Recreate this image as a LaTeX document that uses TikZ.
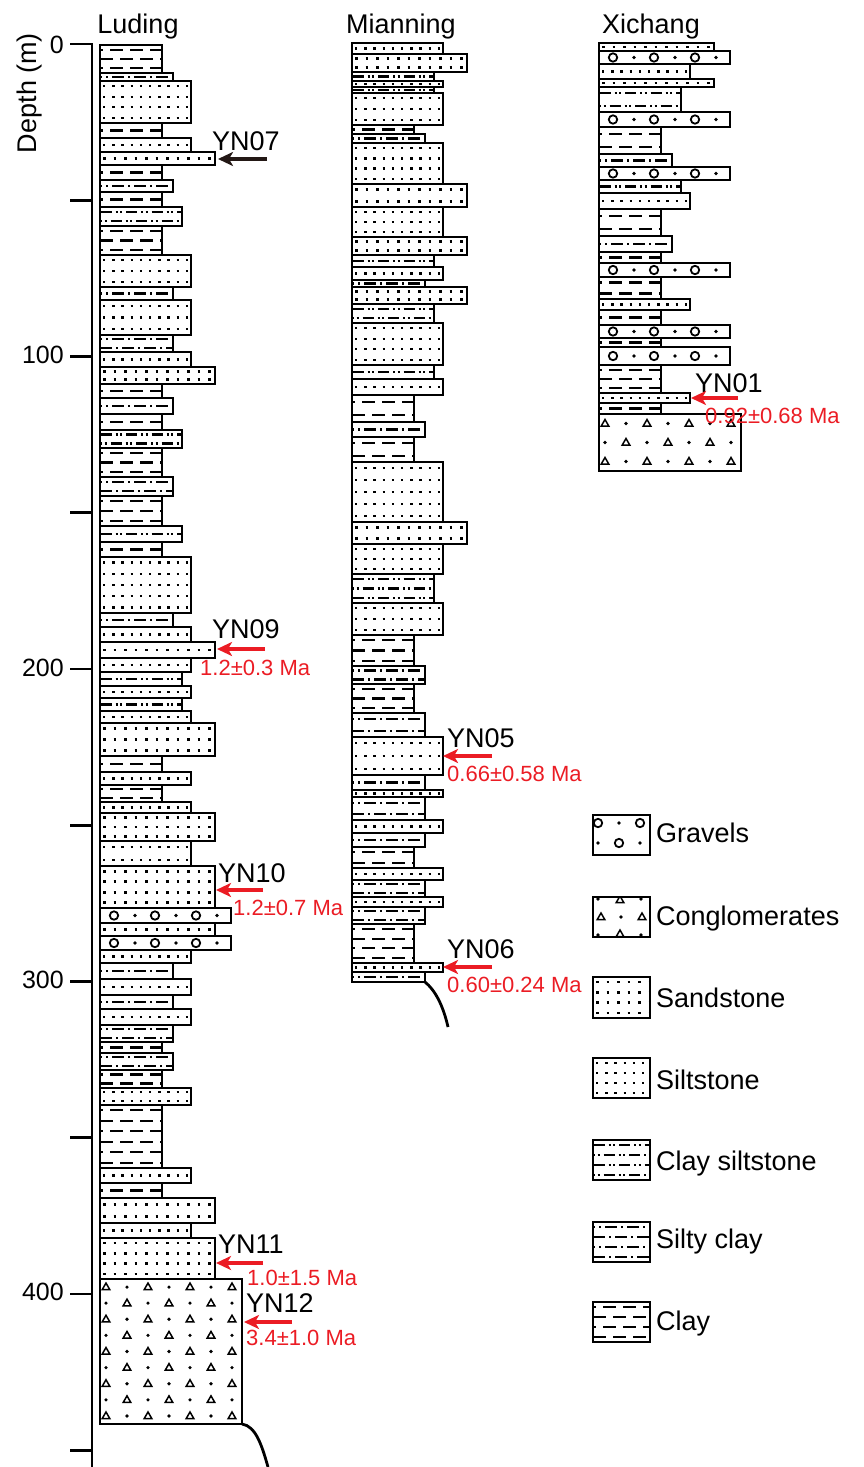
\documentclass[tikz,border=0pt]{standalone}
\usepackage{fontspec}
\setmainfont{Liberation Sans}
\usetikzlibrary{arrows.meta}
\definecolor{agered}{RGB}{235,28,36}
\definecolor{darkarr}{RGB}{35,24,21}

% widths per lithology
\def\wcl{62}\def\wsc{73}\def\wcs{82}\def\wsi{91}\def\wsa{115}\def\wgr{131}\def\wcg{142}
% row spacing per lithology
\def\rscl{11}\def\rssc{11}\def\rscs{11}\def\rssi{11}\def\rssa{11}\def\rsgr{20}\def\rscg{17}

\tikzset{
  box/.style={line width=2.8pt},
  pl/.style={line width=2.1pt},
  hd/.style={font=\fontsize{27}{30}\selectfont, inner sep=0pt, anchor=base},
  yn/.style={font=\fontsize{27}{30}\selectfont, inner sep=0pt, anchor=base west},
  age/.style={font=\fontsize{22}{25}\selectfont, text=agered, inner sep=0pt, anchor=base west},
  tick/.style={font=\fontsize{25}{28}\selectfont, inner sep=0pt, anchor=east},
  leg/.style={font=\fontsize{27}{30}\selectfont, inner sep=0pt, anchor=base west},
  redarr/.style={agered, line width=3.6pt, -{Stealth[length=15pt,width=14pt,inset=4pt]}},
  blkarr/.style={darkarr, line width=3.6pt, -{Stealth[length=15pt,width=14pt,inset=4pt]}},
  gcirc/.style={line width=1.8pt},
  gtri/.style={line width=1.5pt, line join=miter},
}

\newcommand\patcl[3]{\draw[pl,dash pattern=on 13pt off 7pt,dash phase=\ph pt] (#1,#2)--++(#3,0);}
\newcommand\patsc[3]{\draw[pl,dash pattern=on 12pt off 4pt on 2pt off 4pt,dash phase=\ph pt] (#1,#2)--++(#3,0);}
\newcommand\patcs[3]{\draw[pl,dash pattern=on 2pt off 2.5pt on 2pt off 4pt on 11pt off 4pt,dash phase=\ph pt] (#1,#2)--++(#3,0);}
\newcommand\patsi[3]{\draw[line width=2.3pt,dash pattern=on 2.3pt off 6.9pt] (#1+3,#2)--++(#3,0);}
\newcommand\patsa[3]{\draw[line width=2.7pt,dash pattern=on 2.7pt off 7.8pt] (#1+3,#2)--++(#3,0);}
\newcommand\gravel[2]{\draw[gcirc] (#1,#2) circle (4.2pt);}
\newcommand\gdot[2]{\fill (#1,#2) circle (1.8pt);}
\newcommand\ctri[2]{\draw[gtri] (#1,#2-4)--++(3.8,6.6)--++(-7.6,0)--cycle;}
\newcommand\patgr[3]{\pgfmathsetmacro\sh{(1-\odd)*20}%
  \foreach \k in {0,...,3}{\gravel{#1+14+41*\k+\sh}{#2}\gdot{#1+35+41*\k+\sh}{#2}}}
\newcommand\patcg[3]{\foreach \k in {0,...,6}{\pgfmathtruncatemacro\tri{mod(\k+\odd,2)}%
  \ifnum\tri=1 \ctri{#1+6+21*\k}{#2}\else\gdot{#1+6+21*\k}{#2}\fi}}

\newcommand\lyrw[5]{%
  \pgfmathsetmacro\lh{#3-#2}%
  \pgfmathtruncatemacro\nr{max(1,round(\lh/\csname rs#5\endcsname))}%
  \begin{scope}
    \clip (#1,#2) rectangle (#1+#4,#3);
    \foreach \i in {1,...,\nr}{%
      \pgfmathsetmacro\ry{#2+(\i-0.5)*\lh/\nr}%
      \pgfmathtruncatemacro\odd{mod(\i,2)}%
      \pgfmathsetmacro\ph{\odd*10}%
      \csname pat#5\endcsname{#1}{\ry}{#4}%
    }%
  \end{scope}
  \draw[box] (#1,#2) rectangle (#1+#4,#3);
}
\newcommand\lyr[4]{\lyrw{#1}{#2}{#3}{\csname w#4\endcsname}{#4}}

\begin{document}
\begin{tikzpicture}[x=1pt,y=-1pt]
\useasboundingbox (0,0) rectangle (864,1467);

% ---------- depth axis ----------
\draw[box] (70,44) -- (92,44) -- (92,1467);
\foreach \d in {50,100,...,450} \draw[box] (70,{44+3.125*\d}) -- (92,{44+3.125*\d});
\node[tick] (t0) at (64,45) {0};
\node[tick] (t100) at (64,355) {100};
\node[tick] (t200) at (64,668) {200};
\node[tick] (t300) at (64,980) {300};
\node[tick] (t400) at (64,1292) {400};
\node[font=\fontsize{27}{30}\selectfont, inner sep=0pt, rotate=90] (depth) at (30,93) {Depth (m)};

% ---------- headers ----------
\node[hd] (hLuding) at (138,33) {Luding};
\node[hd] (hMianning) at (401,33) {Mianning};
\node[hd] (hXichang) at (651,33) {Xichang};

% ---------- Luding ----------
\lyr{100}{45}{73}{cl}
\lyr{100}{73}{81}{sc}
\lyr{100}{81}{123}{si}
\lyr{100}{123}{138}{cl}
\lyr{100}{138}{152}{si}
\lyr{100}{152}{165}{sa}
\lyr{100}{165}{180}{cl}
\lyr{100}{180}{192}{sc}
\lyr{100}{192}{207}{cl}
\lyr{100}{207}{226}{cs}
\lyr{100}{226}{255}{cl}
\lyr{100}{255}{287}{si}
\lyr{100}{287}{300}{sc}
\lyr{100}{300}{335}{si}
\lyr{100}{335}{352}{sc}
\lyr{100}{352}{367}{si}
\lyr{100}{367}{384}{sa}
\lyr{100}{384}{398}{cl}
\lyr{100}{398}{414}{sc}
\lyr{100}{414}{430}{cl}
\lyr{100}{430}{448}{cs}
\lyr{100}{448}{477}{cl}
\lyr{100}{477}{496}{sc}
\lyr{100}{496}{526}{cl}
\lyr{100}{526}{542}{cs}
\lyr{100}{542}{557}{cl}
\lyr{100}{557}{613}{si}
\lyr{100}{613}{627}{sc}
\lyr{100}{627}{642}{si}
\lyr{100}{642}{658}{sa}
\lyr{100}{658}{672}{si}
\lyr{100}{672}{686}{cs}
\lyr{100}{686}{698}{si}
\lyr{100}{698}{711}{cs}
\lyr{100}{711}{723}{si}
\lyr{100}{723}{756}{sa}
\lyr{100}{756}{772}{cl}
\lyr{100}{772}{785}{si}
\lyr{100}{785}{802}{cl}
\lyr{100}{802}{813}{si}
\lyr{100}{813}{841}{sa}
\lyr{100}{841}{866}{si}
\lyr{100}{866}{908}{sa}
\lyr{100}{908}{923}{gr}
\lyr{100}{923}{936}{sa}
\lyr{100}{936}{950}{gr}
\lyr{100}{950}{963}{si}
\lyr{100}{963}{979}{sc}
\lyr{100}{979}{995}{si}
\lyr{100}{995}{1009}{sc}
\lyr{100}{1009}{1025}{si}
\lyr{100}{1025}{1042}{sc}
\lyr{100}{1042}{1053}{cl}
\lyr{100}{1053}{1070}{sc}
\lyr{100}{1070}{1088}{cl}
\lyr{100}{1088}{1105}{si}
\lyr{100}{1105}{1168}{cl}
\lyr{100}{1168}{1183}{si}
\lyr{100}{1183}{1198}{cl}
\lyr{100}{1198}{1223}{sa}
\lyr{100}{1223}{1238}{si}
\lyr{100}{1238}{1279}{sa}
\lyr{100}{1279}{1424}{cg}
\coordinate (lbot) at (242,1424);
\coordinate (lend) at (268,1467);
\draw[box] (lbot) .. controls (256,1426) and (262,1446) .. (lend);

% ---------- Mianning ----------
\lyr{352}{43}{54}{si}
\lyr{352}{54}{72}{sa}
\lyr{352}{72}{81}{cs}
\lyr{352}{81}{87}{si}
\lyr{352}{87}{93}{cs}
\lyr{352}{93}{125}{si}
\lyr{352}{125}{134}{cl}
\lyr{352}{134}{143}{sc}
\lyr{352}{143}{184}{si}
\lyr{352}{184}{207}{sa}
\lyr{352}{207}{237}{si}
\lyr{352}{237}{255}{sa}
\lyr{352}{255}{267}{cs}
\lyr{352}{267}{280}{si}
\lyr{352}{280}{287}{sc}
\lyr{352}{287}{304}{sa}
\lyr{352}{304}{323}{cs}
\lyr{352}{323}{365}{si}
\lyr{352}{365}{379}{cs}
\lyr{352}{379}{395}{si}
\lyr{352}{395}{422}{cl}
\lyr{352}{422}{437}{sc}
\lyr{352}{437}{462}{cl}
\lyr{352}{462}{522}{si}
\lyr{352}{522}{544}{sa}
\lyr{352}{544}{574}{si}
\lyr{352}{574}{603}{cs}
\lyr{352}{603}{635}{si}
\lyr{352}{635}{666}{cl}
\lyr{352}{666}{684}{sc}
\lyr{352}{684}{713}{cl}
\lyr{352}{713}{737}{sc}
\lyr{352}{737}{775}{si}
\lyr{352}{775}{790}{sc}
\lyr{352}{790}{797}{si}
\lyr{352}{797}{820}{sc}
\lyr{352}{820}{833}{si}
\lyr{352}{833}{847}{sc}
\lyr{352}{847}{868}{cl}
\lyr{352}{868}{880}{si}
\lyr{352}{880}{897}{sc}
\lyr{352}{897}{907}{si}
\lyr{352}{907}{924}{sc}
\lyr{352}{924}{963}{cl}
\lyr{352}{963}{972}{si}
\lyr{352}{972}{982}{sc}
\coordinate (mbot) at (425,982);
\coordinate (mend) at (448,1027);
\draw[box] (mbot) .. controls (435,990) and (443,1005) .. (mend);

% ---------- Xichang ----------
\lyr{599}{43}{51}{sa}
\lyr{599}{51}{64}{gr}
\lyr{599}{64}{79}{si}
\lyr{599}{79}{87}{sa}
\lyr{599}{87}{112}{cs}
\lyr{599}{112}{127}{gr}
\lyr{599}{127}{154}{cl}
\lyr{599}{154}{167}{sc}
\lyr{599}{167}{180}{gr}
\lyr{599}{180}{193}{cs}
\lyr{599}{193}{209}{si}
\lyr{599}{209}{236}{cl}
\lyr{599}{236}{252}{sc}
\lyr{599}{252}{263}{cl}
\lyr{599}{263}{277}{gr}
\lyr{599}{277}{299}{cl}
\lyr{599}{299}{310}{si}
\lyr{599}{310}{325}{cl}
\lyr{599}{325}{338}{gr}
\lyr{599}{338}{347}{cl}
\lyr{599}{347}{365}{gr}
\lyr{599}{365}{393}{cl}
\lyr{599}{393}{403}{si}
\lyr{599}{403}{414}{cl}
\lyr{599}{414}{471}{cg}

% ---------- samples ----------
\node[yn] (yn07) at (212,150) {YN07};
\coordinate (a07s) at (267,159); \coordinate (a07e) at (218,159);
\draw[blkarr] (a07s) -- (a07e);

\node[yn] (yn09) at (212,638) {YN09};
\coordinate (a09s) at (265,649); \coordinate (a09e) at (217,649);
\draw[redarr] (a09s) -- (a09e);
\node[age] (g09) at (200,675) {1.2±0.3 Ma};

\node[yn] (yn10) at (218,882) {YN10};
\coordinate (a10s) at (263,890); \coordinate (a10e) at (216,890);
\draw[redarr] (a10s) -- (a10e);
\node[age] (g10) at (233,915) {1.2±0.7 Ma};

\node[yn] (yn11) at (218,1253) {YN11};
\coordinate (a11s) at (263,1263); \coordinate (a11e) at (216,1263);
\draw[redarr] (a11s) -- (a11e);
\node[age] (g11) at (247,1285) {1.0±1.5 Ma};

\node[yn] (yn12) at (246,1312) {YN12};
\coordinate (a12s) at (292,1322); \coordinate (a12e) at (244,1322);
\draw[redarr] (a12s) -- (a12e);
\node[age] (g12) at (246,1345) {3.4±1.0 Ma};

\node[yn] (yn05) at (447,747) {YN05};
\coordinate (a05s) at (492,756); \coordinate (a05e) at (443,756);
\draw[redarr] (a05s) -- (a05e);
\node[age] (g05) at (447,781) {0.66±0.58 Ma};

\node[yn] (yn06) at (447,958) {YN06};
\coordinate (a06s) at (492,967); \coordinate (a06e) at (443,967);
\draw[redarr] (a06s) -- (a06e);
\node[age] (g06) at (447,992) {0.60±0.24 Ma};

\node[yn] (yn01) at (695,392) {YN01};
\coordinate (a01s) at (738,398); \coordinate (a01e) at (691,398);
\draw[redarr] (a01s) -- (a01e);
\node[age] (g01) at (705,423) {0.92±0.68 Ma};

% ---------- legend ----------
\gravel{598}{823}\gdot{619}{823}\gravel{640}{823}
\gdot{598}{843}\gravel{619}{843}\gdot{640}{843}
\draw[box] (593,815) rectangle (650,855);
\node[leg] (lgr) at (656,842) {Gravels};

\begin{scope}
\clip (593,897) rectangle (650,937);
\gdot{598}{899}\ctri{620}{900}\gdot{641}{899}
\ctri{601}{917}\gdot{621}{917}\ctri{642}{917}
\gdot{598}{935}\ctri{620}{934}\gdot{641}{935}
\end{scope}
\draw[box] (593,897) rectangle (650,937);
\node[leg] (lcg) at (656,925) {Conglomerates};

\lyrw{593}{977}{1018}{57}{sa}
\node[leg] (lsa) at (656,1007) {Sandstone};
\lyrw{593}{1058}{1098}{57}{si}
\node[leg] (lsi) at (656,1089) {Siltstone};
\lyrw{593}{1140}{1180}{57}{cs}
\node[leg] (lcs) at (656,1170) {Clay siltstone};
\lyrw{593}{1222}{1262}{57}{sc}
\node[leg] (lsc) at (656,1248) {Silty clay};
\lyrw{593}{1302}{1342}{57}{cl}
\node[leg] (lcl) at (656,1330) {Clay};
\end{tikzpicture}
\end{document}
